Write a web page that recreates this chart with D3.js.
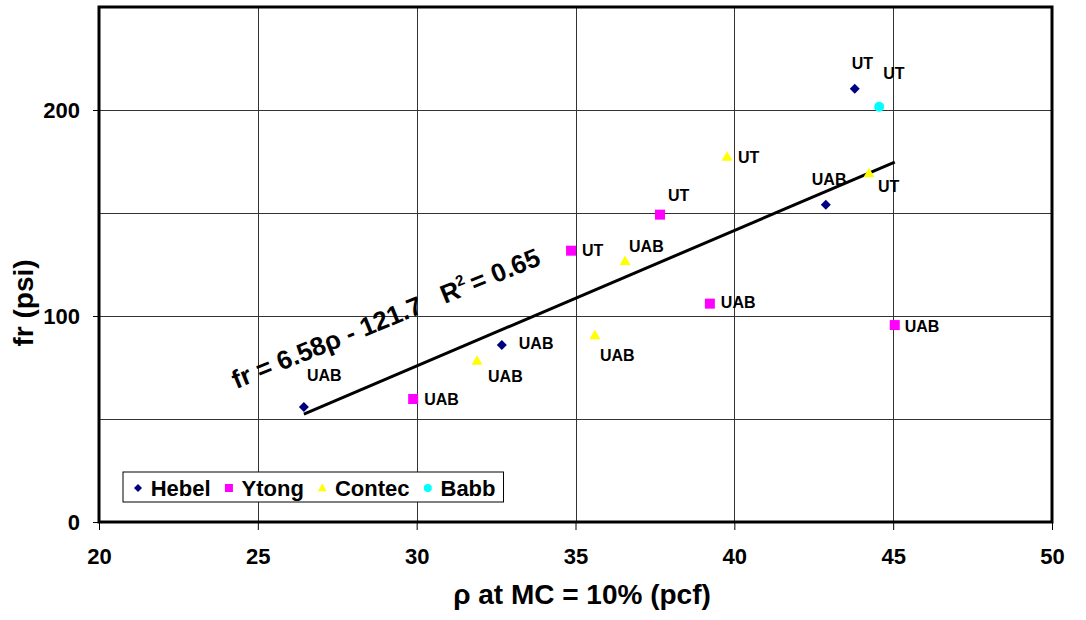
<!DOCTYPE html>
<html>
<head>
<meta charset="utf-8">
<script src="https://cdn.jsdelivr.net/npm/d3@7"></script>
<style>
  body { margin: 0; background: #fff; }
  svg { display: block; font-family: "Liberation Sans", Arial, sans-serif; font-weight: bold; }
</style>
</head>
<body>
<svg id="chart" width="1086" height="620"></svg>
<script>
// ---------- data ----------
const seriesNames = ["Hebel", "Ytong", "Contec", "Babb"];
const seriesColors = ["#000080", "#FF00FF", "#FFFF00", "#00FFFF"];
const seriesShapes = ["diamond", "square", "triangle", "circle"];

const hebelX = [26.45, 32.68, 42.88, 43.79];
const hebelY = [55.8, 85.9, 154.0, 210.3];
const hebelLabels = ["UAB", "UAB", "UAB", "UT"];

const ytongX = [29.89, 34.86, 37.66, 39.23, 45.05];
const ytongY = [59.7, 131.7, 149.2, 106.0, 95.6];
const ytongLabels = ["UAB", "UT", "UT", "UAB", "UAB"];

const contecX = [31.90, 35.61, 36.56, 39.77, 44.24];
const contecY = [78.3, 90.6, 126.7, 177.3, 169.3];
const contecLabels = ["UAB", "UAB", "UAB", "UT", "UT"];

const babbX = [44.56];
const babbY = [201.6];
const babbLabels = ["UT"];

const trendSlope = 6.58;
const trendIntercept = -121.7;
const trendR2 = 0.65;

const xTicks = [20, 25, 30, 35, 40, 45, 50];
const yTickLabels = [0, 100, 200];
const yGrid = [50, 100, 150, 200];
const xGrid = [25, 30, 35, 40, 45];

const xTitle = "ρ at MC = 10% (pcf)";
const yTitle = "fr (psi)";

// ---------- layout (label offsets in px, relative to marker) ----------
const labelOffsets = [
  [[3, -32], [17, -2], [-14, -26], [-3, -26]],
  [[11, 0], [11, 0], [8, -19], [11, -1], [10, 1]],
  [[11, 16], [5, 20], [4, -15], [11, 0], [9, 13]],
  [[4, -33]]
];

const seriesX = [hebelX, ytongX, contecX, babbX];
const seriesY = [hebelY, ytongY, contecY, babbY];
const seriesLabels = [hebelLabels, ytongLabels, contecLabels, babbLabels];

// ---------- scales ----------
const svg = d3.select("#chart");
const L = 99, R = 1052, T = 7, B = 522;
const x = d3.scaleLinear().domain([20, 50]).range([L, R]);
const y = d3.scaleLinear().domain([0, 250]).range([B, T]);

function markerPath(shape) {
  switch (shape) {
    case "diamond": return "M0,-5L5,0L0,5L-5,0Z";
    case "square": return "M-5,-5H5V5H-5Z";
    case "triangle": return "M0,-5.5L5.5,4L-5.5,4Z";
    case "circle": return "M5,0A5,5 0 1,1 -5,0A5,5 0 1,1 5,0Z";
  }
}

// gridlines
svg.append("g").selectAll("line").data(yGrid).join("line")
  .attr("x1", L).attr("x2", R)
  .attr("y1", d => Math.round(y(d)) + 0.5).attr("y2", d => Math.round(y(d)) + 0.5)
  .attr("stroke", "#333").attr("stroke-width", 1);
svg.append("g").selectAll("line").data(xGrid).join("line")
  .attr("y1", T).attr("y2", B)
  .attr("x1", d => Math.round(x(d)) + 0.5).attr("x2", d => Math.round(x(d)) + 0.5)
  .attr("stroke", "#333").attr("stroke-width", 1);

// axes
const xAxis = svg.append("g").attr("transform", `translate(0,${B})`)
  .call(d3.axisBottom(x).tickValues(xTicks).tickSize(8).tickSizeOuter(0).tickPadding(18).tickFormat(d3.format("d")));
const yAxis = svg.append("g").attr("transform", `translate(${L},0)`)
  .call(d3.axisLeft(y).tickValues(yTickLabels).tickSize(6).tickSizeOuter(0).tickPadding(13).tickFormat(d3.format("d")));
[xAxis, yAxis].forEach(a => {
  a.select(".domain").remove();
  a.selectAll(".tick line").attr("stroke", "#000").attr("stroke-width", 1);
  a.selectAll(".tick text").attr("font-size", 22).attr("font-weight", "bold")
    .attr("font-family", "Liberation Sans, Arial, sans-serif").attr("fill", "#000");
});

// plot border
svg.append("rect").attr("x", L).attr("y", T).attr("width", R - L).attr("height", B - T)
  .attr("fill", "none").attr("stroke", "#000").attr("stroke-width", 3);

// trendline
const allX = seriesX.flat();
const xmin = d3.min(allX), xmax = d3.max(allX);
const trend = d3.line().x(d => x(d)).y(d => y(trendSlope * d + trendIntercept));
svg.append("path").datum([xmin, xmax]).attr("d", trend)
  .attr("stroke", "#000").attr("stroke-width", 3).attr("fill", "none");

// points + labels
seriesNames.forEach((name, i) => {
  const g = svg.append("g");
  const pts = seriesX[i].map((v, j) => ({ x: v, y: seriesY[i][j], label: seriesLabels[i][j], off: labelOffsets[i][j] }));
  g.selectAll("path").data(pts).join("path")
    .attr("d", markerPath(seriesShapes[i]))
    .attr("transform", d => `translate(${x(d.x)},${y(d.y)})`)
    .attr("fill", seriesColors[i]);
  g.selectAll("text").data(pts).join("text")
    .attr("x", d => x(d.x) + d.off[0]).attr("y", d => y(d.y) + d.off[1])
    .attr("dy", "0.36em").attr("font-size", 16).attr("fill", "#000")
    .text(d => d.label);
});

// equation
const eq = svg.append("text")
  .attr("transform", `translate(${x(24.32)},${y(64.5)}) rotate(-22.2)`)
  .attr("font-size", 26).attr("fill", "#000");
eq.append("tspan").text(`fr = ${trendSlope}ρ - ${Math.abs(trendIntercept)}`);
eq.append("tspan").attr("dx", 22).text("R");
eq.append("tspan").attr("font-size", 15).attr("dy", -11).text("2");
eq.append("tspan").attr("dy", 11).attr("dx", 5).text(`= ${trendR2}`);

// axis titles
svg.append("text").attr("x", 582).attr("y", 604).attr("text-anchor", "middle")
  .attr("font-size", 28).attr("fill", "#000").text(xTitle);
svg.append("text").attr("transform", "translate(33,303) rotate(-90)").attr("text-anchor", "middle")
  .attr("font-size", 28).attr("fill", "#000").text(yTitle);

// legend
const leg = svg.append("g");
const legBox = leg.append("rect").attr("y", 472).attr("height", 30).attr("x", 123)
  .attr("fill", "#fff").attr("stroke", "#000").attr("stroke-width", 1);
let cursor = 138;
seriesNames.forEach((name, i) => {
  leg.append("path").attr("d", markerPath(seriesShapes[i]))
    .attr("transform", `translate(${cursor},488) scale(0.8)`).attr("fill", seriesColors[i]);
  const t = leg.append("text").attr("x", cursor + 12.7).attr("y", 488).attr("dy", "0.36em")
    .attr("font-size", 22).attr("fill", "#000").text(name);
  const w = t.node().getComputedTextLength();
  cursor = cursor + 12.7 + w + 18.3;
});
legBox.attr("width", cursor - 18.3 + 8 - 123);
</script>
</body>
</html>
